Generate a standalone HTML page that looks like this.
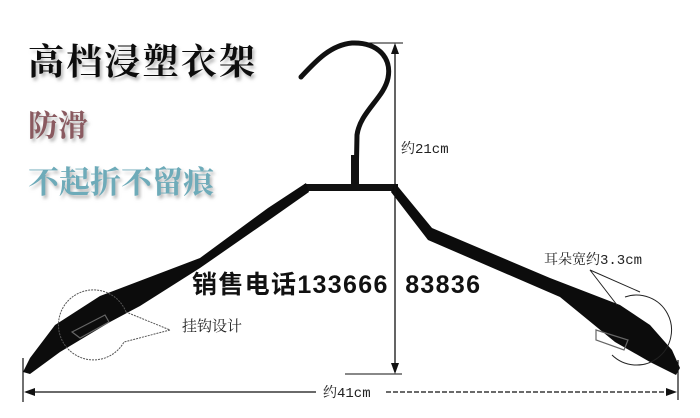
<!DOCTYPE html>
<html><head><meta charset="utf-8"><style>
html,body{margin:0;padding:0;background:#fff;}
svg{display:block;}
.t{font-family:"Noto Serif CJK SC","Liberation Serif",serif;font-weight:bold;}
.s{font-family:"Liberation Mono","Noto Serif CJK SC",serif;}
</style></head><body>
<svg width="700" height="418" viewBox="0 0 700 418" xmlns="http://www.w3.org/2000/svg">
<defs><filter id="sh" x="-5%" y="-20%" width="115%" height="150%"><feDropShadow dx="2" dy="3" stdDeviation="1.5" flood-color="#999" flood-opacity="0.7"/></filter></defs>
<text x="28" y="74" class="t" font-size="36" fill="#111" filter="url(#sh)" textLength="227">高档浸塑衣架</text>
<text x="28" y="136" class="t" font-size="30" fill="#8a5a60" filter="url(#sh)">防滑</text>
<text x="28" y="193" class="t" font-size="31" fill="#6eabb9" filter="url(#sh)">不起折不留痕</text>
<!-- hook -->
<path d="M301,77 C315,62 330,45 352,43 C378,42 392,58 388,78 C384,98 360,112 357,135 L356,186" fill="none" stroke="#111" stroke-width="5" stroke-linecap="round"/>
<rect x="351" y="155" width="8" height="32" fill="#111"/>
<!-- top bar -->
<path d="M304,184 L398,184 L398,191 L305,191 Z" fill="#111"/>
<!-- left arm -->
<path d="M306,183 L268,208 L200,258 L100,296 L55,325 L30,358 L23,372 L30,374 L60,352 L110,322 L140,306 L200,268 L272,218 L309,192 Z" fill="#0c0c0c"/>
<!-- right arm -->
<path d="M395,183 L432,228 L550,278 L620,305 L650,325 L672,350 L680,368 L676,375 L650,362 L615,342 L560,297 L428,240 L391,192 Z" fill="#0c0c0c"/>
<!-- clips -->
<path d="M72,332 L105,315 L109,322 L80,338 Z" fill="none" stroke="#666" stroke-width="1.2"/>
<path d="M596,330 L628,340 L624,350 L596,340 Z" fill="none" stroke="#666" stroke-width="1.2"/>
<!-- left callout -->
<path d="M126,312 A35,35 0 1 0 124,342 L170,330 Z" fill="none" stroke="#555" stroke-width="1" stroke-dasharray="2,1"/>
<text x="182" y="331" class="s" font-size="15" fill="#222">挂钩设计</text>
<!-- right callout -->
<path d="M625,297 A35,35 0 1 1 612,355" fill="none" stroke="#222" stroke-width="1"/>
<path d="M617,305 L590,270 L640,292" fill="none" stroke="#222" stroke-width="1"/>
<text x="544" y="264" class="s" font-size="14" fill="#222">耳朵宽约3.3cm</text>
<!-- phone -->
<text x="192" y="293" font-family="Liberation Sans,'Noto Sans CJK SC',sans-serif" font-weight="bold" font-size="25" fill="#111" textLength="288" xml:space="preserve">销售电话133666  83836</text>
<!-- vertical dimension -->
<line x1="360" y1="43" x2="403" y2="43" stroke="#111" stroke-width="1"/>
<line x1="345" y1="374" x2="402" y2="374" stroke="#111" stroke-width="1"/>
<line x1="395" y1="45" x2="395" y2="372" stroke="#111" stroke-width="1.3"/>
<path d="M395,43 L391,54 L399,54 Z" fill="#111"/>
<path d="M395,374 L391,363 L399,363 Z" fill="#111"/>
<text x="401" y="153" class="s" font-size="14" fill="#222">约21cm</text>
<!-- horizontal dimension -->
<line x1="23" y1="358" x2="23" y2="402" stroke="#111" stroke-width="1.2"/>
<line x1="678" y1="360" x2="678" y2="400" stroke="#111" stroke-width="1.2"/>
<line x1="26" y1="392" x2="316" y2="392" stroke="#111" stroke-width="1.3"/>
<path d="M24,392 L35,388 L35,396 Z" fill="#111"/>
<line x1="386" y1="392" x2="672" y2="392" stroke="#111" stroke-width="1.3" stroke-dasharray="5,2"/>
<path d="M677,392 L666,388 L666,396 Z" fill="#111"/>
<text x="323" y="397" class="s" font-size="14" fill="#222">约41cm</text>
</svg>
</body></html>
